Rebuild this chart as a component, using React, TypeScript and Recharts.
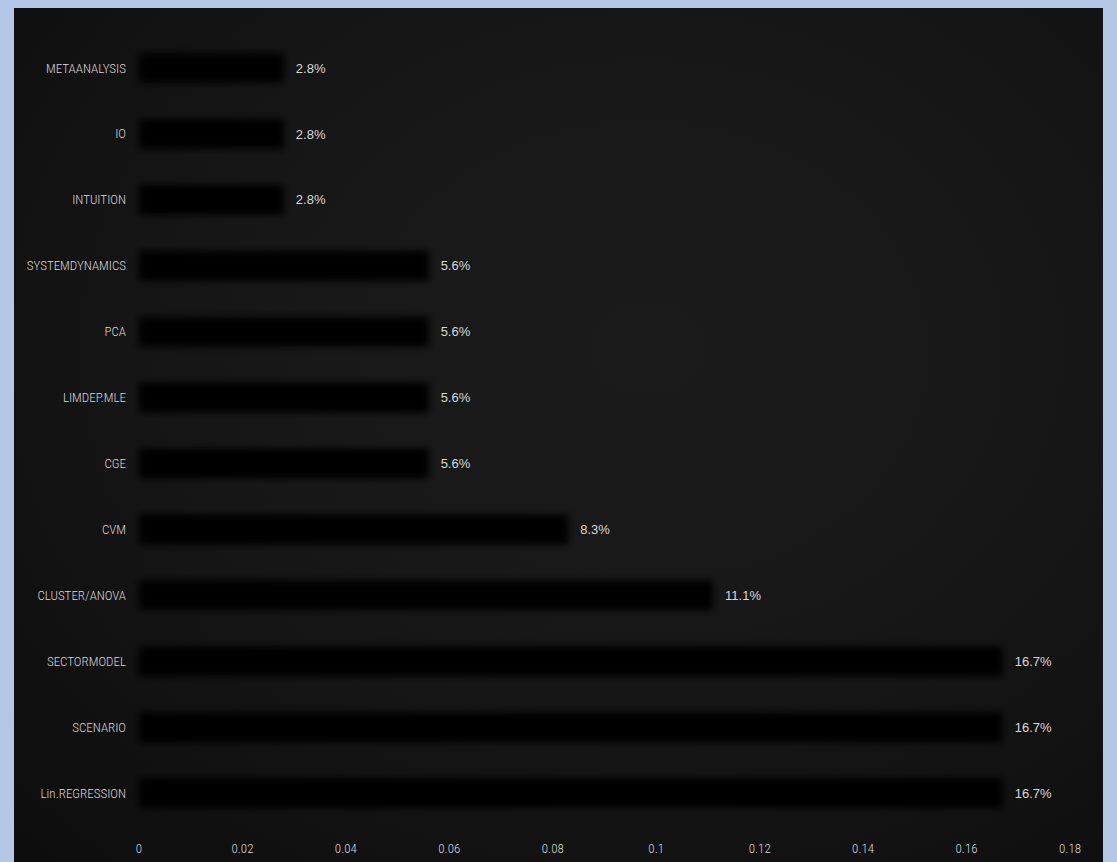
import { BarChart, Bar, XAxis, YAxis, LabelList } from 'recharts';

const methods = [
  'METAANALYSIS',
  'IO',
  'INTUITION',
  'SYSTEMDYNAMICS',
  'PCA',
  'LIMDEP.MLE',
  'CGE',
  'CVM',
  'CLUSTER/ANOVA',
  'SECTORMODEL',
  'SCENARIO',
  'Lin.REGRESSION',
];
const shares = [0.028, 0.028, 0.028, 0.056, 0.056, 0.056, 0.056, 0.083, 0.111, 0.167, 0.167, 0.167];
const xTicks = [0, 0.02, 0.04, 0.06, 0.08, 0.1, 0.12, 0.14, 0.16, 0.18];

const data = methods.map((name, i) => ({ name, share: shares[i] }));

const narrow = '"Liberation Sans Narrow", "Arial Narrow", "Roboto Condensed", sans-serif';

export default function App() {
  return (
    <div style={{ position: 'absolute', left: 0, top: 0, width: 1117, height: 862, background: '#B4C7E7' }}>
      <div
        style={{
          position: 'absolute',
          left: 14,
          top: 8,
          width: 1089,
          height: 854,
          background: 'radial-gradient(ellipse at 58% 40%, #1b1b1b 0%, #171717 45%, #0d0d0d 100%)',
        }}
      >
        <BarChart
          width={1089}
          height={854}
          data={data}
          layout="vertical"
          margin={{ top: 27, right: 33, left: 0, bottom: 0 }}
        >
          <defs>
            <filter id="soft" x="-10%" y="-60%" width="120%" height="220%">
              <feGaussianBlur stdDeviation="3.5" />
            </filter>
          </defs>
          <XAxis
            type="number"
            domain={[0, 0.18]}
            ticks={xTicks}
            axisLine={false}
            tickLine={false}
            height={36}
            tickMargin={12}
            tick={{ fill: '#d9d9d9', fontSize: 13, fontFamily: narrow, fontWeight: 300 }}
            tickFormatter={(v) => String(v)}
          />
          <YAxis
            type="category"
            dataKey="name"
            width={125}
            axisLine={false}
            tickLine={false}
            tickMargin={7}
            tick={{ fill: '#d9d9d9', fontSize: 13, fontFamily: narrow, fontWeight: 300 }}
          />
          <Bar dataKey="share" fill="#020202" barSize={30} filter="url(#soft)" isAnimationActive={false}>
            <LabelList
              dataKey="share"
              position="right"
              offset={12}
              fill="#d9d9d9"
              fontSize={13}
              fontFamily='"Liberation Sans", Arial, sans-serif'
              formatter={(v: number) => `${(v * 100).toFixed(1)}%`}
            />
          </Bar>
        </BarChart>
      </div>
    </div>
  );
}
